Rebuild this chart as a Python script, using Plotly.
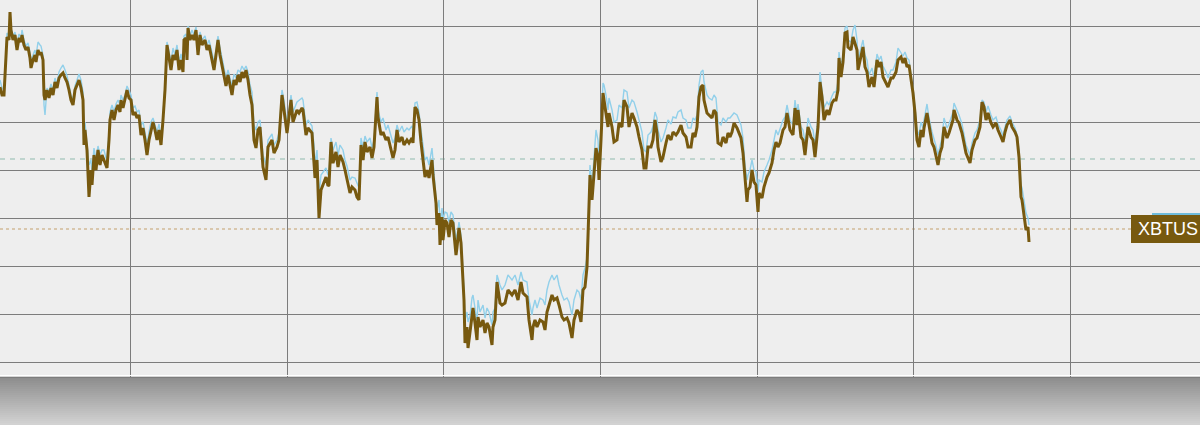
import plotly.graph_objects as go

# time index (hours) shared by both series
t = [
    0,2,4,6,7,9,10,11,13,15,
    17,19,21,22,24,26,28,30,31,33,
    35,36,38,40,41,43,44,45,47,49,
    51,53,55,57,59,61,63,65,67,69,
    71,73,75,77,79,81,83,84,85,87,
    89,91,92,94,96,98,100,102,104,106,
    107,109,110,112,114,116,118,120,121,123,
    125,127,129,131,133,135,137,139,141,143,
    145,147,149,151,153,155,157,159,161,163,
    165,167,169,171,173,175,177,179,181,183,
    184,186,187,188,190,192,194,196,198,200,
    202,205,207,209,211,214,216,218,220,222,
    224,226,228,230,232,234,236,238,240,242,
    244,246,248,250,252,254,256,258,260,263,
    266,268,272,274,277,279,282,284,287,291,
    293,297,299,302,303,306,308,312,314,315,
    317,319,321,323,326,328,329,331,333,336,
    338,340,343,345,347,350,352,355,357,359,
    361,363,365,367,370,372,374,377,378,381,
    383,386,388,391,393,395,397,399,402,404,
    407,409,412,413,415,417,419,421,423,425,
    427,429,432,433,436,437,439,440,442,443,
    445,447,449,451,453,456,457,459,461,463,
    464,465,467,468,470,472,473,475,477,478,
    480,483,485,487,489,492,493,495,497,500,
    502,505,508,512,515,518,521,523,527,529,
    532,533,535,537,540,543,545,547,549,552,
    554,557,559,562,564,567,569,572,574,577,
    579,581,583,585,587,588,590,592,593,596,
    598,599,601,603,604,606,608,609,612,614,
    617,619,622,624,627,629,632,634,637,639,
    642,644,646,648,651,653,655,657,658,661,
    663,666,668,671,673,676,678,681,683,686,
    688,691,693,695,697,699,701,703,704,707,
    709,712,714,716,718,721,723,726,728,730,
    732,734,737,739,741,743,745,747,748,750,
    752,754,756,758,759,762,764,767,769,772,
    774,776,778,780,783,785,787,790,793,795,
    797,798,801,803,805,807,808,811,813,815,
    817,818,820,822,824,827,829,832,834,836,
    838,839,841,843,845,847,848,851,853,855,
    857,858,861,863,865,867,869,872,874,877,
    879,881,883,886,888,891,893,896,898,901,
    903,905,907,909,912,913,915,917,919,921,
    923,924,927,929,932,934,936,938,940,942,
    944,947,949,951,953,954,957,959,962,964,
    966,968,970,972,975,977,980,982,984,986,
    988,991,993,996,998,1001,1003,1005,1007,1010,
    1012,1015,1017,1019,1021,1022,1024,1026,1028,1029,
]

# XBTUSD price (brown)
xbtusd = [
    875,867,867,900,925,922,950,932,922,927,
    912,924,920,927,917,912,915,904,894,902,
    907,900,912,907,910,902,867,862,872,864,
    874,867,880,874,884,887,889,884,880,872,
    862,857,872,877,882,874,862,817,832,812,
    765,792,777,807,792,812,797,807,802,797,
    794,822,842,852,842,852,857,850,862,854,
    862,872,864,862,847,850,844,847,827,834,
    822,807,822,832,840,832,822,832,817,842,
    872,917,902,892,907,902,912,892,902,890,
    922,924,902,934,922,927,922,932,907,927,
    917,922,912,917,907,892,907,922,907,897,
    887,876,887,877,867,882,877,887,880,890,
    884,892,882,867,857,822,814,832,835,795,
    782,815,822,809,815,822,867,852,829,862,
    840,852,849,854,852,827,834,829,805,784,
    802,744,772,777,785,776,777,820,799,810,
    795,807,800,792,784,769,775,772,765,762,
    817,802,820,810,815,804,815,865,845,827,
    830,822,825,814,804,812,832,820,825,817,
    822,819,824,819,855,852,842,820,802,785,
    792,784,802,787,759,737,749,717,745,722,
    742,739,725,742,739,707,715,734,719,685,
    662,619,635,614,629,649,654,639,622,645,
    635,642,629,639,635,617,635,642,680,659,
    657,659,672,667,672,662,680,669,665,642,
    622,635,642,635,642,640,632,650,657,667,
    662,664,657,645,642,644,639,624,642,652,
    649,640,672,675,695,724,787,762,774,814,
    805,782,822,869,862,849,835,849,835,820,
    822,839,835,862,855,835,849,844,835,825,
    812,794,794,815,815,822,842,829,815,800,
    805,819,827,822,830,827,830,837,829,825,
    815,815,829,825,835,865,875,877,862,849,
    847,844,852,849,819,817,825,819,829,825,
    830,839,834,829,824,809,782,760,772,775,
    792,780,777,750,769,764,775,785,789,799,
    812,820,815,819,832,835,849,832,827,854,
    837,852,825,822,807,822,835,825,822,805,
    829,835,880,865,842,852,847,859,862,862,
    872,904,885,900,929,930,915,912,925,919,
    912,892,907,915,895,890,875,885,875,902,
    895,900,885,879,875,884,884,890,902,905,
    899,904,895,897,879,869,849,822,815,832,
    825,834,849,835,819,815,805,797,809,815,
    835,824,829,835,842,852,842,839,829,819,
    809,804,799,812,822,824,835,860,855,842,
    849,839,835,839,832,825,820,830,837,842,
    835,830,825,805,765,762,745,732,735,720,
]

# comparison price (light blue)
index_price = [
    882,874,872,907,929,926,948,934,926,930,
    917,928,924,932,922,916,919,910,900,907,
    912,906,920,917,916,907,857,847,874,870,
    878,872,884,878,890,894,897,892,886,877,
    867,862,876,882,888,882,870,837,840,817,
    797,802,790,814,802,816,807,812,812,804,
    802,830,850,857,850,858,862,857,867,862,
    867,876,872,867,854,856,850,852,837,840,
    830,817,830,840,844,838,830,838,824,847,
    877,920,910,900,914,907,917,900,908,897,
    926,928,910,936,926,932,927,935,914,930,
    922,926,917,922,914,900,912,926,914,904,
    894,884,892,884,876,888,884,892,890,896,
    892,896,890,877,870,837,832,840,842,807,
    797,822,828,817,822,829,872,862,837,867,
    850,860,862,864,862,837,842,836,817,797,
    812,767,787,790,794,787,790,824,812,820,
    807,817,812,802,796,782,785,784,779,774,
    824,814,826,820,824,814,822,870,852,840,
    844,832,837,827,819,824,837,830,836,830,
    834,832,836,832,859,860,850,832,814,802,
    805,797,814,802,772,752,762,737,754,742,
    750,749,740,750,747,722,727,740,727,692,
    672,642,650,640,646,664,667,654,640,662,
    650,657,644,654,650,637,650,654,687,677,
    672,677,687,682,687,677,690,682,680,662,
    647,654,662,654,664,662,657,672,680,687,
    682,687,677,667,662,664,660,647,662,672,
    670,662,687,694,704,732,797,777,790,832,
    822,802,837,879,877,867,852,864,852,840,
    842,857,854,872,870,854,862,860,850,842,
    830,812,810,827,830,836,850,844,832,820,
    824,834,842,838,845,844,850,852,844,842,
    834,834,844,842,847,877,890,892,880,867,
    864,862,867,864,840,837,844,840,844,844,
    847,849,847,842,837,824,797,782,787,792,
    802,792,790,770,782,780,790,797,802,812,
    824,832,827,834,842,845,857,842,837,862,
    847,858,835,832,820,832,844,835,832,817,
    837,844,890,874,854,860,857,866,870,870,
    880,910,894,907,934,936,922,920,932,937,
    922,902,914,922,907,902,887,894,884,908,
    902,906,896,890,884,892,892,900,914,909,
    906,910,904,902,884,874,854,832,827,840,
    834,842,858,844,830,824,816,807,817,824,
    844,834,838,844,850,859,852,847,838,829,
    817,812,807,819,829,832,842,862,860,850,
    856,847,842,845,838,832,826,835,842,846,
    840,834,827,812,777,774,762,749,744,737,
]

series_label = "XBTUS"
last_close = 733      # dotted brown level
index_last = 748      # blue last-value marker
reference_level = 803 # dashed level

BROWN = "#77590f"
BLUE = "#92d0ea"

fig = go.Figure()
fig.add_trace(go.Scatter(x=t, y=index_price, mode="lines",
                         line=dict(color=BLUE, width=1.4), hoverinfo="skip"))
fig.add_trace(go.Scatter(x=t, y=xbtusd, mode="lines",
                         line=dict(color=BROWN, width=3), hoverinfo="skip"))

shapes = []
# dashed reference level
shapes.append(dict(type="line", xref="paper", x0=0, x1=1, yref="y",
                   y0=reference_level, y1=reference_level,
                   line=dict(color="#8fbaae", width=1, dash="5px,5px"), layer="below"))
# dotted last-close level
shapes.append(dict(type="line", xref="x", x0=0, x1=1131, yref="y",
                   y0=last_close, y1=last_close,
                   line=dict(color="#c4a06c", width=1, dash="dot"), layer="below"))
# blue last-value marker
shapes.append(dict(type="line", xref="x", x0=1152, x1=1200, yref="y",
                   y0=index_last, y1=index_last,
                   line=dict(color="#6fbcdc", width=2)))
# label box
shapes.append(dict(type="rect", xref="x", x0=1131, x1=1200, yref="y",
                   y0=last_close - 14, y1=last_close + 14,
                   fillcolor=BROWN, line=dict(width=0)))

# bottom gradient strip (below plot area)
H = 377.0
n = 24
for i in range(n):
    g = int(0x8e + (0xd2 - 0x8e) * i / (n - 1))
    col = "#%02x%02x%02x" % (g, g, g)
    shapes.append(dict(type="rect", xref="paper", x0=0, x1=1, yref="paper",
                       y0=-(2 * i) / H, y1=-(2 * i + 2.2) / H,
                       fillcolor=col, line=dict(width=0), layer="above"))
shapes.append(dict(type="line", xref="paper", x0=0, x1=1, yref="paper",
                   y0=1.5 / H, y1=1.5 / H, line=dict(color="#ffffff", width=1)))
shapes.append(dict(type="line", xref="paper", x0=0, x1=1, yref="paper",
                   y0=-0.3 / H, y1=-0.3 / H, line=dict(color="#7a7a7a", width=1)))

fig.update_layout(
    width=1200, height=425,
    margin=dict(l=0, r=0, t=0, b=48, pad=0),
    plot_bgcolor="#eeeeee", paper_bgcolor="#cccccc",
    showlegend=False, hovermode=False,
    shapes=shapes,
    xaxis=dict(range=[0, 1200], showticklabels=False, ticks="", zeroline=False,
               showgrid=True, gridcolor="#7c7c7c", gridwidth=1,
               tick0=130.6, dtick=156.67, tickmode="linear", fixedrange=True),
    yaxis=dict(range=[585, 962], showticklabels=False, ticks="", zeroline=False,
               showgrid=True, gridcolor="#7c7c7c", gridwidth=1,
               tick0=600, dtick=48, tickmode="linear", fixedrange=True),
    annotations=[dict(x=1136, y=last_close, xref="x", yref="y", text=series_label,
                      showarrow=False, xanchor="left", yanchor="middle",
                      font=dict(color="#ffffff", size=18,
                                family="Liberation Sans, Arial, sans-serif"))],
)

fig.write_html("out.html", config={"displayModeBar": False},
               post_script="document.body.style.margin='0';document.body.style.overflow='hidden';")
